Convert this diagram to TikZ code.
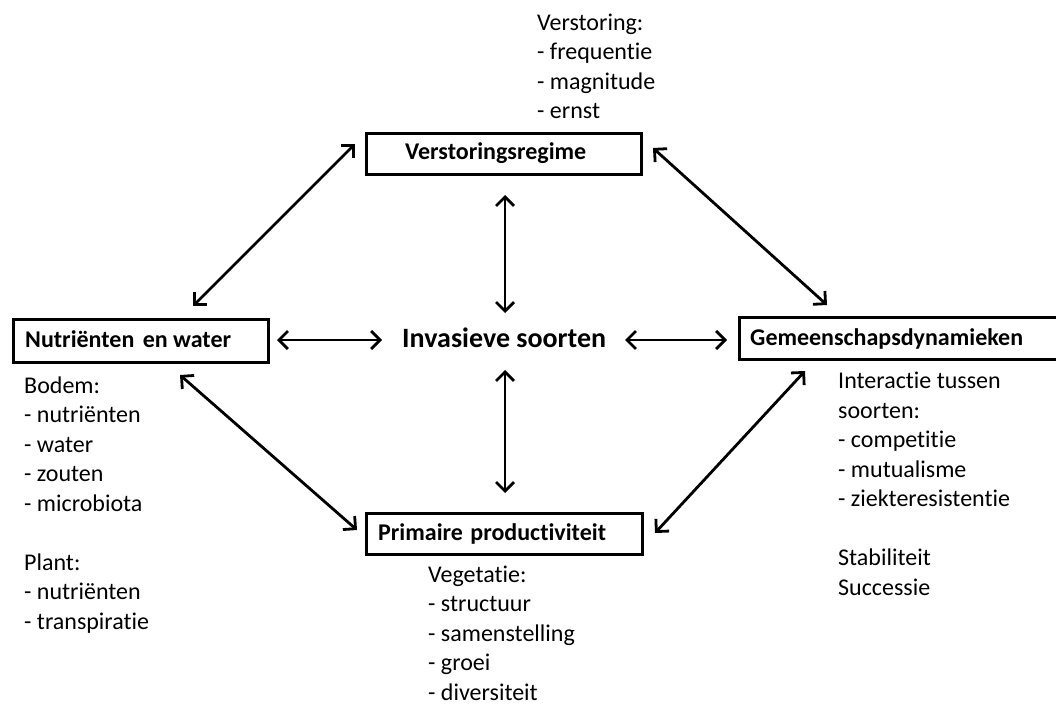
\documentclass[tikz,border=0pt]{standalone}
\usepackage{fontspec}
\setmainfont{Carlito}[Ligatures=NoCommon]
\usetikzlibrary{arrows.meta}
\begin{document}
\begin{tikzpicture}[x=1pt,y=-1pt,
  box/.style={draw, line width=3pt, inner sep=0pt, anchor=north west},
  lbl/.style={font=\fontsize{24}{29.5}\selectfont\bfseries, inner sep=0pt, anchor=base west},
  txt/.style={font=\fontsize{24}{29.5}\selectfont, inner sep=0pt, anchor=base west, align=left},
  arr/.style={line width=2.8pt, {Straight Barb[length=9pt,width=18pt]}-{Straight Barb[length=9pt,width=18pt]}}
]
\useasboundingbox (0,0) rectangle (1056,704);
\clip (0,0) rectangle (1056,704);

% boxes
\node[box, minimum width=275pt, minimum height=41pt] (vr) at (365,132) {};
\node[box, minimum width=255pt, minimum height=43pt] (nw) at (12,318) {};
\node[box, minimum width=340pt, minimum height=42pt] (gd) at (738,316) {};
\node[box, minimum width=276pt, minimum height=41pt] (pp) at (365,512) {};

% box labels
\node[lbl] (vrl) at (405,159) {Verstoringsregime};
\node[lbl] (nwl) at (25,347) {Nutriënten\hspace{3pt} en water};
\node[lbl] (gdl) at (750,345) {Gemeenschapsdynamieken};
\node[lbl] (ppl) at (378,540) {Primaire\hspace{2pt} productiviteit};
\node[font=\fontsize{28}{34}\selectfont\bfseries, inner sep=0pt, anchor=base west] (inv) at (402,347) {Invasieve soorten};

% descriptive texts (anchored at the baseline of their last line)
\node[txt] (tvr) at (537,118.5) {Verstoring:\\- frequentie\\- magnitude\\- ernst};
\node[txt] (tnw) at (24,629) {Bodem:\\- nutriënten\\- water\\- zouten\\- microbiota\\[29.5pt]Plant:\\- nutriënten\\- transpiratie};
\node[txt] (tgd) at (838,595) {Interactie tussen\\soorten:\\- competitie\\- mutualisme\\- ziekteresistentie\\[29.5pt]Stabiliteit\\Successie};
\node[txt] (tpp) at (428,700) {Vegetatie:\\- structuur\\- samenstelling\\- groei\\- diversiteit};

% arrow end points
\coordinate (h1a) at (277,340); \coordinate (h1b) at (382,340);
\coordinate (h2a) at (625,340); \coordinate (h2b) at (727,340);
\coordinate (v1a) at (505,195); \coordinate (v1b) at (505,313);
\coordinate (v2a) at (505,370); \coordinate (v2b) at (505,493);
\coordinate (d1a) at (355,144); \coordinate (d1b) at (193,306);
\coordinate (d2a) at (653,148); \coordinate (d2b) at (827,305);
\coordinate (d3a) at (180,375); \coordinate (d3b) at (357,530);
\coordinate (d4a) at (805,371); \coordinate (d4b) at (655,533);

\draw[arr] (h1a) -- (h1b);
\draw[arr] (h2a) -- (h2b);
\draw[arr] (v1a) -- (v1b);
\draw[arr] (v2a) -- (v2b);
\draw[arr] (d1a) -- (d1b);
\draw[arr] (d2a) -- (d2b);
\draw[arr] (d3a) -- (d3b);
\draw[arr] (d4a) -- (d4b);
\end{tikzpicture}
\end{document}
